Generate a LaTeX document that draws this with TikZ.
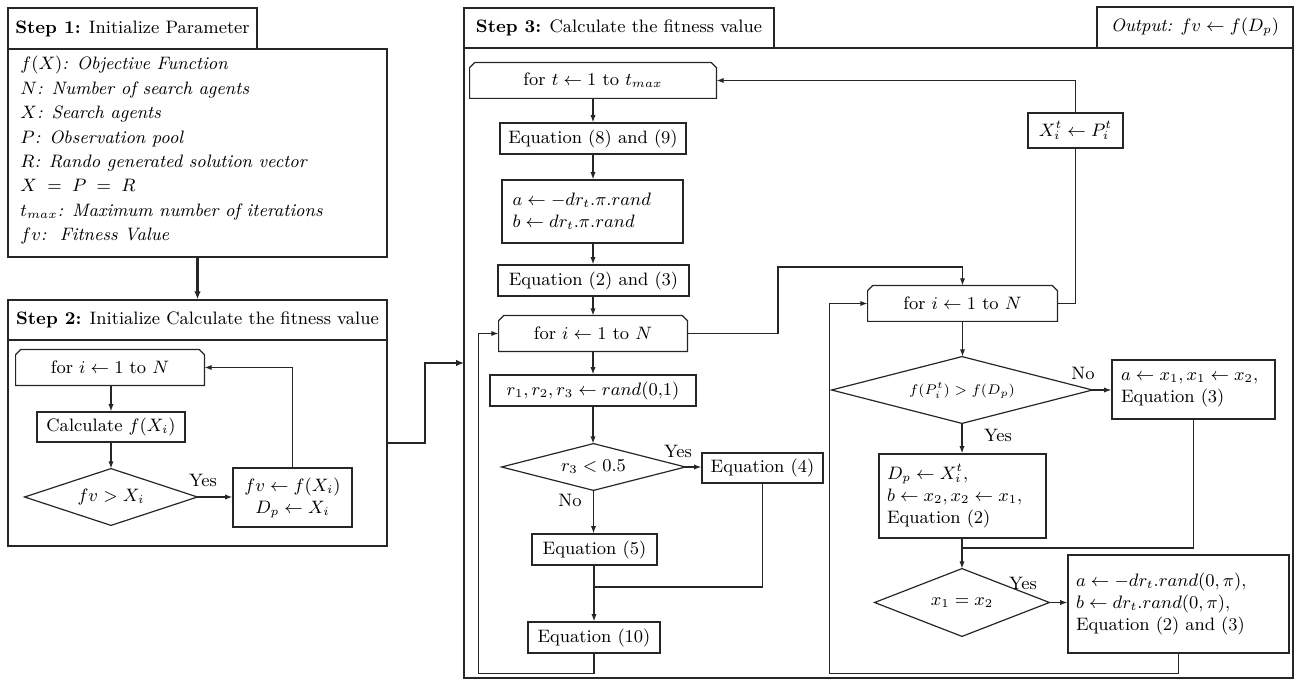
\documentclass[tikz,border=0pt]{standalone}
\usetikzlibrary{arrows.meta}

% loop header: rectangle with its two top corners cut off
\newcommand\loopshape[1]{%
  \draw[line] (#1.south west) -- ([yshift=-2.5pt]#1.north west)
    -- ([xshift=2.5pt]#1.north west) -- ([xshift=-2.5pt]#1.north east)
    -- ([yshift=-2.5pt]#1.north east) -- (#1.south east) -- cycle;}
% decision: diamond through the four sides of a hidden rectangle
\newcommand\diashape[1]{%
  \draw[line] (#1.north) -- (#1.east) -- (#1.south) -- (#1.west) -- cycle;}

\begin{document}
\begin{tikzpicture}[x=0.5pt,y=-0.5pt,
  font=\fontsize{9}{11}\selectfont,
  line/.style={draw=black!85, line width=0.6pt},
  arr/.style={line, -{Latex[length=3.6pt,width=2.6pt]}},
  bigarr/.style={draw=black!85, line width=1.3pt, -{Latex[length=4pt,width=3.4pt]}},
  % a rectangle given by its two corners (x1/y1/x2/y2)
  area/.style args={#1/#2/#3/#4}{rectangle, inner sep=0pt,
    at={({(#1+#3)/2},{(#2+#4)/2})},
    minimum width={(#3-#1)*0.5pt}, minimum height={(#4-#2)*0.5pt}},
  box/.style={line},
  frame/.style={draw=black!85, line width=0.7pt},
  lbl/.style={inner sep=0pt},
]
\useasboundingbox (0,0) rectangle (1296,679);

% ---------------- Step 1 ----------------
\node[frame, area=8/8/257/49] (s1title) {\textbf{Step 1:} Initialize Parameter};
\node[frame, area=8/49/387/257] (s1body) {};
\node[lbl, anchor=north west, align=left, font=\fontsize{9}{12.2}\selectfont\itshape] (params) at (20,56)
  {$f(X)$: Objective Function\\
   $N$: Number of search agents\\
   $X$: Search agents\\
   $P$: Observation pool\\
   $R$: Rando generated solution vector\\
   $X\;=\;P\;=\;R$\\
   $t_{max}$: Maximum number of iterations\\
   $fv$:\ \ Fitness Value};

% ---------------- Step 2 ----------------
\node[frame, area=8/300/387/340] (s2title) {\textbf{Step 2:} Initialize Calculate the fitness value};
\node[frame, area=8/340/387/546] (s2body) {};
\draw[bigarr] (s1body.south) -- (s2title.north);

\node[area=16/350/204/385] (s2for) {for $i \leftarrow 1$ to $N$};
\loopshape{s2for}
\node[box, area=37/412/185/442] (s2calc) {Calculate $f(X_i)$};
\node[area=25/469/197/525] (s2dia) {$fv > X_i$};
\diashape{s2dia}
\node[box, area=233/468/352/527, align=center] (s2upd) {$fv \leftarrow f(X_i)$\\$D_p \leftarrow X_i$};
\node[lbl] (s2yes) at (203,480) {Yes};

\draw[arr] (s2calc.north |- s2for.south) -- (s2calc.north);
\draw[arr] (s2calc.south) -- (s2calc.south |- s2dia.north);
\draw[arr] (s2dia.east) -- (s2dia.east -| s2upd.west);
\draw[arr] (s2upd.north) |- (s2for.east);

% ---------------- Step 3 ----------------
\node[frame, area=464/8/774/48] (s3title) {\textbf{Step 3:} Calculate the fitness value};
\node[frame, area=464/48/1293/678] (s3body) {};
\node[frame, area=1097/7/1293/48] (output) {\textit{Output:} $fv \leftarrow f(D_p)$};

\coordinate (s3in) at (464,363);
\draw[bigarr] (s2body.east) -- (425,443) |- (s3in);

% outer loop and left column
\node[area=470/63/716/98] (fort) {for $t \leftarrow 1$ to $t_{max}$};
\loopshape{fort}
\node[box, area=500/123/686/154] (eq89) {Equation (8) and (9)};
\node[box, area=502/180/683/243, text width=80pt, align=left] (ab)
  {${a \leftarrow -dr_t.\pi.rand}$\\${b \leftarrow dr_t.\pi.rand}$};
\node[box, area=498/265/689/296] (eq23) {Equation (2) and (3)};
\node[area=499/316/687/351] (fori) {for $i \leftarrow 1$ to $N$};
\loopshape{fori}
\node[box, area=490/375/696/406] (rr) {$r_1,r_2,r_3 \leftarrow rand(0{,}1)$};
\node[area=502/444/685/490] (d1) {$r_3 < 0.5$};
\diashape{d1}
\node[box, area=702/453/823/483] (eq4) {Equation (4)};
\node[box, area=532/534/657/565] (eq5) {Equation (5)};
\node[box, area=528/622/660/653] (eq10) {Equation (10)};
\node[lbl] (d1yes) at (678,451) {Yes};
\node[lbl] (d1no) at (570,500) {No};

\draw[arr] (eq89.north |- fort.south) -- (eq89.north);
\draw[arr] (eq89.south) -- (eq89.south |- ab.north);
\draw[arr] (eq89.south |- ab.south) -- (eq89.south |- eq23.north);
\draw[arr] (eq89.south |- eq23.south) -- (eq89.south |- fori.north);
\draw[arr] (fori.south) -- (fori.south |- rr.north);
\draw[arr] (fori.south |- rr.south) -- (fori.south |- d1.north);
\draw[arr] (d1.east) -- (d1.east -| eq4.west);
\draw[arr] (d1.south) -- (d1.south |- eq5.north);
\coordinate (j1) at (eq10.north |- 0,587);
\draw[arr] (eq10.north |- eq5.south) -- (eq10.north);
\draw[line] (eq4.south) |- (j1);
\draw[arr] (eq10.south) -- ++(0,20) -| ([xshift=-10pt]fori.west) -- (fori.west);

% inner loop and right column
\node[area=868/286/1057/321] (forj) {for $i \leftarrow 1$ to $N$};
\loopshape{forj}
\node[box, area=1028/113/1123/148] (xp) {$X_i^t \leftarrow P_i^t$};
\node[area=832/357/1092/423] (d2) {\fontsize{7.5}{9}\selectfont$f(P_i^t) > f(D_p)$};
\diashape{d2}
\node[box, area=1112/360/1275/419, text width=72.5pt, align=left] (ax)
  {${a \leftarrow x_1, x_1 \leftarrow x_2,}$\\Equation (3)};
\node[box, area=879/454/1046/538, text width=75.5pt, align=left] (dp)
  {${D_p \leftarrow X_i^t,}$\\${b \leftarrow x_2, x_2 \leftarrow x_1,}$\\Equation (2)};
\node[area=875/569/1049/636] (d3) {$x_1 = x_2$};
\diashape{d3}
\node[box, area=1068/555/1289/653, text width=102.5pt, align=left] (last)
  {${a \leftarrow -dr_t.rand(0,\pi),}$\\${b \leftarrow dr_t.rand(0,\pi),}$\\Equation (2) and (3)};
\node[lbl] (d2no) at (1083,373) {No};
\node[lbl] (d2yes) at (998,435) {Yes};
\node[lbl] (d3yes) at (1023,583) {Yes};

\draw[arr] (fori.east) -| (778,267) -| (forj.north);
\draw[arr] (xp.north) |- (fort.east);
\draw[line] (forj.east) -| (xp.south);
\draw[arr] (forj.south) -- (forj.south |- d2.north);
\draw[arr] (d2.east) -- (d2.east -| ax.west);
\draw[arr] (d2.south) -- (d2.south |- dp.north);
\coordinate (j2) at (d3.north |- 0,548);
\draw[line] (ax.south) |- (j2);
\draw[arr] (d3.north |- dp.south) -- (d3.north);
\draw[arr] (d3.east) -- (d3.east -| last.west);
\draw[arr] (last.south) -- ++(0,20) -| ([xshift=-19pt]forj.west) -- (forj.west);
\end{tikzpicture}
\end{document}
